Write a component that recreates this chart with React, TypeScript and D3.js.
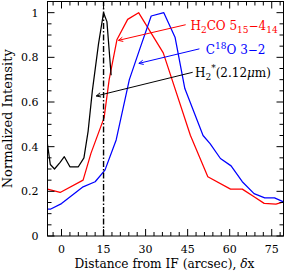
import React from 'react';
import * as d3 from 'd3';

// [offset in arcsec, normalized intensity]
const h2Profile: [number, number][] = [
  [-5, 0.41], [-4, 0.32], [-2.5, 0.30], [-0.5, 0.33], [1, 0.355], [3, 0.31],
  [6, 0.31], [8, 0.35], [9.5, 0.47], [11, 0.65], [13.2, 0.86], [15, 1.0],
  [16.2, 0.96], [17.7, 0.72],
];
const h2coProfile: [number, number][] = [
  [-5, 0.21], [-0.5, 0.195], [7.7, 0.25], [10.5, 0.37], [15.2, 0.53], [17, 0.70],
  [19.8, 0.88], [23.6, 0.97], [27.5, 1.0], [36.3, 0.82], [46, 0.45], [52.2, 0.265],
  [60.3, 0.21], [64.5, 0.21], [68.7, 0.176], [72.3, 0.146], [76.5, 0.143], [80, 0.153],
];
const c18oProfile: [number, number][] = [
  [-5, 0.12], [-4, 0.12], [0, 0.145], [7.7, 0.22], [12, 0.243], [15.5, 0.295],
  [19.5, 0.43], [24.2, 0.70], [28, 0.84], [32, 0.985], [36.5, 1.0], [40.5, 0.89],
  [44, 0.66], [50.5, 0.45], [53, 0.414], [56.7, 0.347], [60.5, 0.314], [64.5, 0.243],
  [68.7, 0.19], [72.5, 0.171], [76, 0.171], [80, 0.153],
];

const xTicks = [0, 15, 30, 45, 60, 75];
const yTicks = [0, 0.2, 0.4, 0.6, 0.8, 1];
const ifPosition = 15;

// annotation arrows: label anchor -> tip, in data units
const labels = [
  { key: 'h2co', color: 'red', from: [44.3, 0.946], to: [20.3, 0.876], text: [46, 0.946] },
  { key: 'c18o', color: 'blue', from: [49.2, 0.838], to: [27.6, 0.773], text: [51.5, 0.838] },
  { key: 'h2', color: 'black', from: [46.8, 0.733], to: [12.4, 0.627], text: [47.6, 0.733] },
];

const W = 284;
const H = 275;
const left = 47.5, right = 283.5, top = 1.5, bottom = 236;
const font = '"DejaVu Serif", serif';

const x = d3.scaleLinear().domain([-5, 79.2]).range([left, right]);
const y = d3.scaleLinear().domain([0, 1.05]).range([bottom, top]);

const line = d3.line<[number, number]>()
  .x(d => x(Math.min(d[0], 79.2)))
  .y(d => y(d[1]));

const xMinor = d3.range(-3, 80, 3);
const yMinor = d3.range(0, 1.05, 0.05);

function Arrow({ from, to, color }: { from: number[]; to: number[]; color: string }) {
  const x1 = x(from[0]), y1 = y(from[1]), x2 = x(to[0]), y2 = y(to[1]);
  const a = Math.atan2(y1 - y2, x1 - x2);
  const len = 5, spread = 0.45;
  const p1 = [x2 + len * Math.cos(a + spread), y2 + len * Math.sin(a + spread)];
  const p2 = [x2 + len * Math.cos(a - spread), y2 + len * Math.sin(a - spread)];
  return (
    <g stroke={color} strokeWidth={1} fill="none">
      <line x1={x1} y1={y1} x2={x2} y2={y2} />
      <path d={`M${p1[0]},${p1[1]}L${x2},${y2}L${p2[0]},${p2[1]}`} />
    </g>
  );
}

export default function App() {
  return (
    <svg width={W} height={H} style={{ display: 'block', position: 'absolute', left: 0, top: 0, background: '#fff' }}
      fontFamily={font}>
      <defs>
        <clipPath id="plot">
          <rect x={left} y={top} width={right - left} height={bottom - top} />
        </clipPath>
      </defs>

      <g clipPath="url(#plot)" fill="none" strokeWidth={1.25} strokeLinejoin="round">
        <path d={line(h2coProfile) ?? ''} stroke="red" />
        <path d={line(c18oProfile) ?? ''} stroke="blue" />
        <path d={line(h2Profile) ?? ''} stroke="black" />
      </g>

      <line x1={x(ifPosition)} x2={x(ifPosition)} y1={y(0)} y2={y(1.05)}
        stroke="black" strokeWidth={1.4} strokeDasharray="6,2,1.5,2" />

      {/* frame + ticks */}
      <rect x={left} y={top} width={right - left} height={bottom - top} fill="none" stroke="black" strokeWidth={1} />
      <g stroke="black" strokeWidth={1}>
        {xMinor.map(v => {
          const major = xTicks.includes(v);
          const l = major ? 7 : 4;
          return (
            <g key={`xt${v}`}>
              <line x1={x(v)} x2={x(v)} y1={bottom} y2={bottom - l} />
              <line x1={x(v)} x2={x(v)} y1={top} y2={top + l} />
            </g>
          );
        })}
        {yMinor.map((v, i) => {
          const major = i % 4 === 0;
          const l = major ? 7 : 4;
          return (
            <g key={`yt${i}`}>
              <line x1={left} x2={left + l} y1={y(v)} y2={y(v)} />
              <line x1={right} x2={right - l} y1={y(v)} y2={y(v)} />
            </g>
          );
        })}
      </g>

      <g fontSize={11} fill="black">
        {xTicks.map(v => (
          <text key={`xl${v}`} x={x(v)} y={bottom + 16.5} textAnchor="middle">{v}</text>
        ))}
        {yTicks.map(v => (
          <text key={`yl${v}`} x={left - 9} y={y(v) + 4} textAnchor="end">{v === 0 || v === 1 ? String(v) : v.toFixed(1)}</text>
        ))}
      </g>

      <text x={(left + right) / 2 - 1} y={268} textAnchor="middle" fontSize={12.2}>
        Distance from IF (arcsec), <tspan fontStyle="italic">δ</tspan>x
      </text>
      <text transform={`translate(12,${(top + bottom) / 2}) rotate(-90)`} textAnchor="middle" fontSize={13}>
        Normalized Intensity
      </text>

      {labels.map(l => <Arrow key={l.key} from={l.from} to={l.to} color={l.color} />)}

      <text x={x(labels[0].text[0])} y={y(labels[0].text[1]) + 5} fill="red" fontSize={12}>
        H<tspan fontSize={9} dy={3}>2</tspan><tspan dy={-3}>CO 5</tspan>
        <tspan fontSize={9} dy={3}>15</tspan><tspan dy={-3}>−4</tspan>
        <tspan fontSize={9} dy={3}>14</tspan>
      </text>
      <text x={x(labels[1].text[0])} y={y(labels[1].text[1]) + 5} fill="blue" fontSize={12}>
        C<tspan fontSize={9} dy={-5}>18</tspan><tspan dy={5}>O 3−2</tspan>
      </text>
      <text x={x(labels[2].text[0])} y={y(labels[2].text[1]) + 5} fill="black" fontSize={12}>
        H<tspan fontSize={9} dy={3}>2</tspan><tspan fontSize={9} dy={-9}>*</tspan>
        <tspan dy={6}>(2.12</tspan><tspan fontStyle="italic">μ</tspan>m)
      </text>
    </svg>
  );
}
